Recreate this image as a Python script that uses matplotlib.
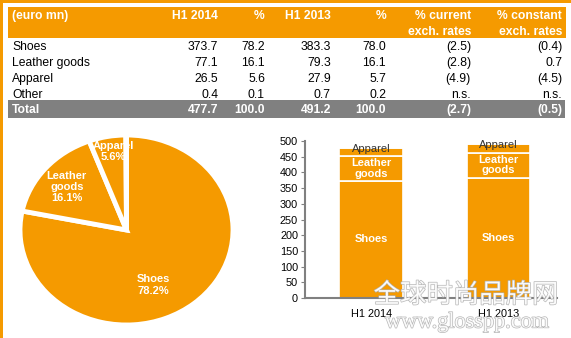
import numpy as np
import matplotlib
matplotlib.use("Agg")
import matplotlib.pyplot as plt
import matplotlib.patheffects as pe
from matplotlib.patches import Rectangle

plt.rcParams['font.family'] = ['Liberation Sans', 'DejaVu Sans']

#-------------------------------------------------------------------------------
# data
categories = ["Shoes", "Leather goods", "Apparel", "Other"]
h1_2014 = [373.7, 77.1, 26.5, 0.4]
pct_2014 = [78.2, 16.1, 5.6, 0.1]
h1_2013 = [383.3, 79.3, 27.9, 0.7]
pct_2013 = [78.0, 16.1, 5.7, 0.2]
chg_current = ["(2.5)", "(2.8)", "(4.9)", "n.s."]
chg_constant = ["(0.4)", "0.7", "(4.5)", "n.s."]
total_row = ["477.7", "100.0", "491.2", "100.0", "(2.7)", "(0.5)"]
headers = ["H1 2014", "%", "H1 2013", "%", "% current\nexch. rates", "% constant\nexch. rates"]
periods = ["H1 2014", "H1 2013"]
pie_labels = ["Shoes\n78.2%", "Leather\ngoods\n16.1%", "Apparel\n5.6%", ""]
bar_labels = ["Shoes", "Leather\ngoods", "Apparel", ""]

ORANGE = '#F59A00'
GRAY = '#808080'

W, H = 571, 338
fig = plt.figure(figsize=(W / 100, H / 100), dpi=100)

# full-figure axes in pixel coords for the table and frame
bg = fig.add_axes([0, 0, 1, 1])
bg.set_xlim(0, W)
bg.set_ylim(H, 0)
bg.axis('off')

# frame
bg.add_patch(Rectangle((0, 0), W, 3, color=ORANGE, lw=0))
bg.add_patch(Rectangle((0, 0), 2.5, H, color=ORANGE, lw=0))

# header band and total band
bg.add_patch(Rectangle((8, 7), 558, 31, color=ORANGE, lw=0))
bg.add_patch(Rectangle((8, 100), 557, 18, color=GRAY, lw=0))

col_x = [218, 265, 331, 386, 471, 562]
fs = 8.7

bg.text(12, 16, "(euro mn)", color='white', fontweight='bold', fontsize=fs,
        ha='left', va='center')
for x, h in zip(col_x, headers):
    bg.text(x, 10, h, color='white', fontweight='bold', fontsize=fs,
            ha='right', va='top', linespacing=1.4)

row_y = [47, 63, 79, 95]
for i, cat in enumerate(categories):
    y = row_y[i]
    vals = [f"{h1_2014[i]:.1f}", f"{pct_2014[i]:.1f}", f"{h1_2013[i]:.1f}",
            f"{pct_2013[i]:.1f}", chg_current[i], chg_constant[i]]
    bg.text(12, y, cat, fontsize=fs, ha='left', va='center', color='black')
    for x, v in zip(col_x, vals):
        bg.text(x, y, v, fontsize=fs, ha='right', va='center', color='black')

bg.text(12, 110, "Total", color='white', fontweight='bold', fontsize=fs,
        ha='left', va='center')
for x, v in zip(col_x, total_row):
    bg.text(x, 110, v, color='white', fontweight='bold', fontsize=fs,
            ha='right', va='center')

#-------------------------------------------------------------------------------
# pie (slightly elliptical like the original)
cx, cy, rx, ry = 126.5, 230, 106.5, 95
pax = fig.add_axes([(cx - rx) / W, 1 - (cy + ry) / H, 2 * rx / W, 2 * ry / H])
wedges, _ = pax.pie(pct_2014, startangle=90, counterclock=False,
                    colors=[ORANGE] * 4,
                    wedgeprops=dict(edgecolor='white', linewidth=3.5))
pax.set_aspect('auto')
pax.set_xlim(-1, 1)
pax.set_ylim(-1, 1)

pie_pos = [(0.25, -0.58), (-0.56, 0.45), (-0.12, 0.83)]
for (px, py), lab, w in zip(pie_pos, pie_labels, wedges):
    t = pax.text(px, py, lab, color='white', fontweight='bold', fontsize=8,
                 ha='center', va='center', linespacing=1.15)
    t.set_clip_path(w)

#-------------------------------------------------------------------------------
# stacked bars
bl, br, bb, bt = 305, 557, 298, 141
bax = fig.add_axes([bl / W, 1 - bb / H, (br - bl) / W, (bb - bt) / H])
bax.patch.set_alpha(0)
x = np.arange(len(periods))
series = np.array([h1_2014, h1_2013]).T
bottom = np.zeros(len(periods))
for i, vals in enumerate(series):
    bax.bar(x, vals, bottom=bottom, width=0.5, color=ORANGE,
            edgecolor='white', linewidth=1.2)
    bottom = bottom + vals

bax.set_xlim(-0.52, 1.46)
bax.set_ylim(0, 500)
bax.set_yticks(np.arange(0, 501, 50))
bax.set_xticks(x)
bax.set_xticklabels(periods)
for s in ['top', 'right']:
    bax.spines[s].set_visible(False)
for s in ['left', 'bottom']:
    bax.spines[s].set_color(GRAY)
    bax.spines[s].set_linewidth(1.5)
bax.tick_params(axis='y', length=3, color=GRAY, labelsize=7.8, pad=2)
bax.tick_params(axis='x', length=0, labelsize=7.8, pad=8)

for j in range(len(periods)):
    shoes = series[0][j]
    leather = series[1][j]
    apparel = series[2][j]
    bax.text(x[j], shoes / 2, bar_labels[0], color='white', fontweight='bold',
             fontsize=8, ha='center', va='center')
    bax.text(x[j], shoes + leather / 2, bar_labels[1], color='white',
             fontweight='bold', fontsize=8, ha='center', va='center',
             linespacing=1.05)
    bax.text(x[j], shoes + leather + apparel - 2, bar_labels[2], color='#333333',
             fontsize=8, ha='center', va='center')

#-------------------------------------------------------------------------------
# watermark (drawn at figure level, above the axes)
wm = dict(color='white', ha='center', va='center', zorder=20, alpha=0.9,
          path_effects=[pe.withStroke(linewidth=1.0, foreground='#b0b0b0')])
fig.text(466 / W, 1 - 295 / H, "全球时尚品牌网", fontsize=19,
         family=['Noto Sans CJK SC'], **wm)
fig.text(467 / W, 1 - 323 / H, "www.glosspp.com", fontsize=16,
         family=['Liberation Serif'], **wm)

fig.savefig("out.png", dpi=100)
